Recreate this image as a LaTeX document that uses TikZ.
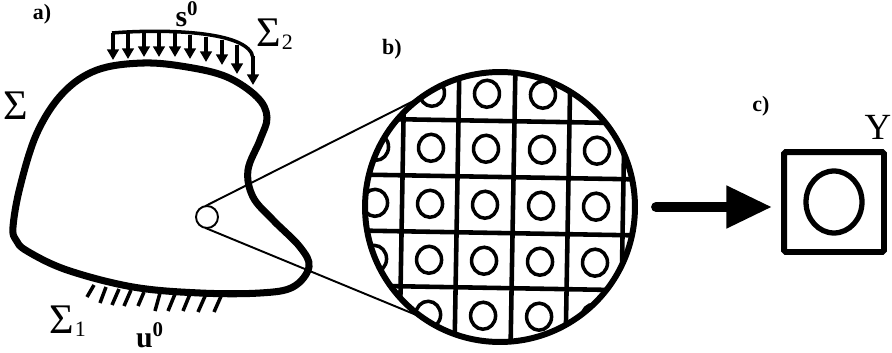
\documentclass[tikz,border=0pt]{standalone}
\usepackage{fontspec}
\setmainfont{Liberation Serif}
\usepackage{tikz}
\usetikzlibrary{positioning,arrows.meta}

\begin{document}
\begin{tikzpicture}[
    x=0.02cm, y=-0.02cm,
    outline/.style={line width=4pt, line join=round},
    thinline/.style={line width=1.1pt},
    load/.style={line width=1.9pt, -{Triangle[length=6pt, width=6.5pt]}},
    hatchline/.style={line width=2pt},
    gridline/.style={line width=2.6pt},
    sym/.style={font=\fontsize{24}{26}\selectfont, inner sep=0pt},
    subs/.style={font=\fontsize{12.5}{14}\selectfont, inner sep=0pt},
    tag/.style={font=\fontsize{12.5}{14}\selectfont\bfseries, inner sep=0pt},
    bold/.style={font=\fontsize{17}{19}\selectfont\bfseries, inner sep=0pt},
]
\useasboundingbox (0,0) rectangle (892,352);

% Body
\draw[outline] plot[smooth cycle, tension=0.6] coordinates {
    (13,227) (20,187) (37,133) (63,93) (97,70) (143,63) (187,67) (227,77)
    (257,97) (267,117) (260,140) (248,170) (253,197) (273,220) (300,247)
    (309,267) (293,287) (260,293) (200,293) (133,287) (67,270) (27,251) (16,240)};

% Traction on the upper part
\draw[line width=2pt] (112,33) .. controls (160,29) and (250,30) .. (253,58);
\foreach \i/\xa/\ya/\yb in {1/113/33/60, 2/128/32/59, 3/144/32/57, 4/159/32/57, 5/175/33/57,
    6/190/35/59, 7/206/37/62, 8/222/40/65, 9/237/45/74, 10/253/56/85} {
    \coordinate (st\i) at (\xa,\ya);
    \coordinate (se\i) at (\xa,\yb);
    \draw[load] (st\i) -- (se\i);
}

% Fixed part
\foreach \i/\xa/\ya/\xb/\yb in {1/94/285/87/297, 2/106/287/100/303, 3/119/289/112/305, 4/131/290/124/306,
    5/144/292/138/306, 6/160/293/155/311, 7/175/294/168/311, 8/190/294/183/311, 9/206/294/198/312, 10/222/294/214/312} {
    \coordinate (ht\i) at (\xa,\ya);
    \coordinate (he\i) at (\xb,\yb);
    \draw[hatchline] (ht\i) -- (he\i);
}

% Microstructure
\begin{scope}
\clip (500,207) circle (2.7cm);
\begin{scope}[rotate around={-1:(500,207)}]
\foreach \c in {402,457,513,568,623} {
    \coordinate (vt\c) at (\c,60);
    \coordinate (vb\c) at (\c,350);
    \draw[gridline] (vt\c) -- (vb\c);
}
\foreach \r in {121,177,233,288} {
    \coordinate (hl\r) at (360,\r);
    \coordinate (hr\r) at (640,\r);
    \draw[gridline] (hl\r) -- (hr\r);
}
\foreach \c in {375,430,485,541,596} {
    \foreach \r in {94,149,205,261,316} {
        \draw[line width=2pt] (\c,\r) ellipse (0.25cm and 0.27cm);
    }
}
\end{scope}
\end{scope}
\node[draw, circle, line width=3.4pt, minimum size=5.4cm, inner sep=0pt, outer sep=0pt] (zoomc) at (500,207) {};

% Small cell and cone
\node[draw, circle, thinline, minimum size=0.44cm, inner sep=0pt, outer sep=0pt] (cell) at (207,217) {};
\draw[thinline] (cell.100) -- (zoomc.125);
\draw[thinline] (cell.260) -- (zoomc.235);

% Unit cell
\node[draw, line width=3.4pt, rounded corners=1pt, minimum size=2cm, inner sep=0pt, outer sep=0pt] (unit) at (834,202) {};
\draw[line width=3pt] (unit.center) ellipse (0.56cm and 0.62cm);
\coordinate (arrs) at (656,207);
\coordinate (arre) at (772,207);
\draw[line width=5.6pt, line cap=round, -{Triangle[length=26pt, width=23pt]}] (arrs) -- (arre);

% Labels
\node[tag] (la) at (42,14) {a)};
\node[tag] (lb) at (392,49) {b)};
\node[tag] (lc) at (761,106) {c)};
\node[bold] (ls) at (187,14) {s\textsuperscript{0}};
\node[bold] (lu) at (150,335) {u\textsuperscript{0}};
\node[sym] (lsig) at (16,106) {Σ};
\node[sym] (lsig2) at (269,33) {Σ};
\node[subs, right=0pt of lsig2, yshift=-5pt] (two) {2};
\node[sym] (lsig1) at (62,320) {Σ};
\node[subs, right=0pt of lsig1, yshift=-5pt] (one) {1};
\node[sym, font=\fontsize{21}{23}\selectfont] (ly) at (878,127) {Y};
\end{tikzpicture}
\end{document}
